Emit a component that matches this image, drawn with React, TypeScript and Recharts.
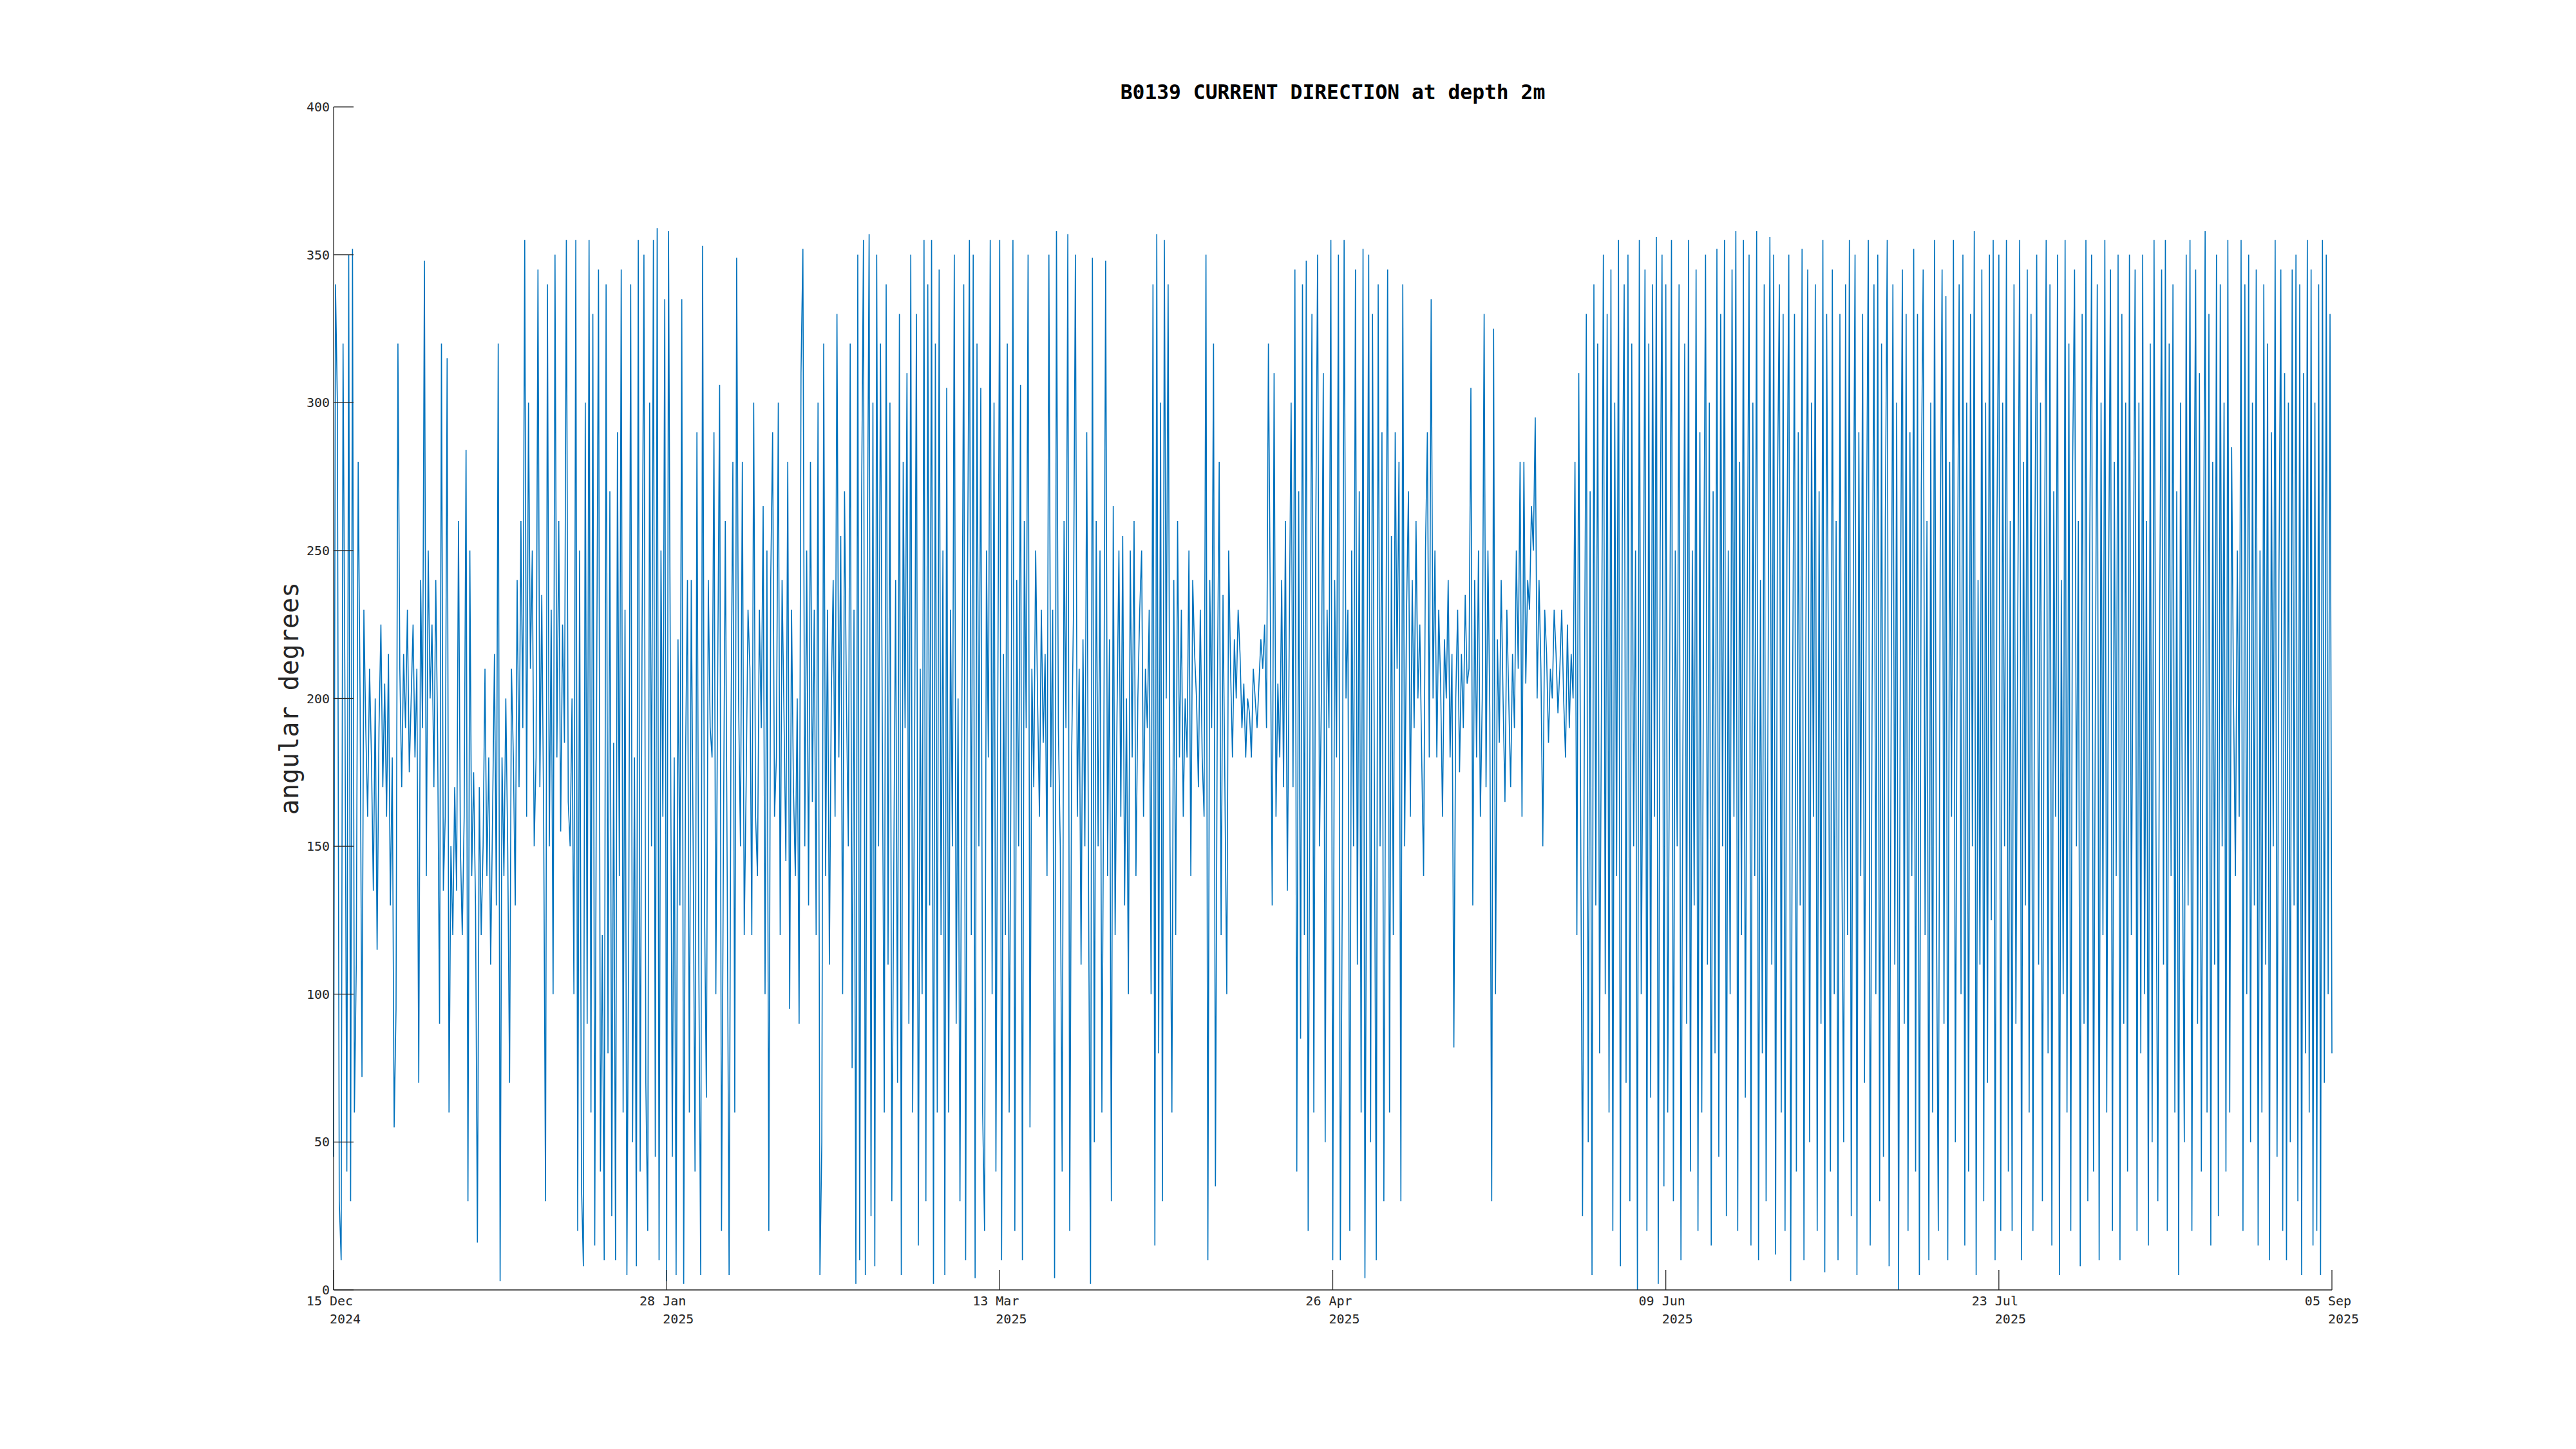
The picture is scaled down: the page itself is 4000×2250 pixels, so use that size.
import { LineChart, Line, XAxis, YAxis } from 'recharts'

// sampled every 6 h, starting 15 Dec 2024 00:00
const samplesPerDay = 4

// 15 Dec - 28 Jan
const decJan = [
  45, 340, 300, 30, 10, 320, 200, 40, 350, 30, 352, 60, 110, 280, 200, 72,
  230, 190, 160, 210, 180, 135, 200, 115, 190, 225, 170, 205, 160, 215, 130, 180,
  55, 95, 320, 210, 170, 215, 190, 230, 175, 200, 225, 180, 210, 70, 240, 190,
  348, 140, 250, 200, 225, 170, 240, 185, 90, 320, 135, 160, 315, 60, 150, 120,
  170, 135, 260, 150, 120, 160, 284, 30, 250, 140, 175, 130, 16, 170, 120, 150,
  210, 140, 180, 110, 160, 215, 130, 320, 3, 180, 140, 200, 150, 70, 210, 180,
  130, 240, 170, 260, 190, 355, 160, 300, 210, 250, 150, 180, 345, 170, 235, 160,
  30, 340, 150, 230, 100, 350, 180, 260, 155, 225, 185, 355, 165, 150, 200, 100,
  355, 20, 250, 35, 8, 300, 90, 355, 60, 330, 15, 200, 345, 40, 120, 10,
  340, 80, 270, 25, 185, 10, 290, 140, 345, 60, 230, 5, 130, 340, 50, 180,
  8, 355, 40, 220, 350, 70, 20, 300, 150, 355, 45, 359, 10, 250, 160, 335,
]

// 28 Jan - 13 Mar
const janMar = [
  3, 358, 200, 45, 180, 5, 220, 130, 335, 2, 180, 240, 60, 240, 150, 40,
  290, 110, 5, 353, 130, 65, 240, 190, 180, 290, 100, 210, 306, 20, 150, 260,
  140, 5, 190, 280, 60, 349, 200, 150, 280, 120, 170, 230, 210, 120, 300, 160,
  140, 230, 190, 265, 100, 250, 20, 240, 290, 160, 180, 300, 120, 240, 195, 145,
  280, 95, 230, 170, 140, 200, 90, 310, 352, 150, 250, 130, 280, 165, 230, 120,
  300, 5, 50, 320, 140, 230, 110, 200, 240, 160, 330, 180, 255, 100, 270, 200,
  150, 320, 75, 230, 2, 350, 10, 265, 355, 5, 240, 357, 25, 300, 8, 350,
  150, 320, 185, 60, 340, 110, 300, 30, 140, 240, 70, 330, 5, 280, 190, 310,
  90, 350, 60, 180, 330, 15, 210, 100, 355, 30, 340, 130, 355, 2, 320, 60,
  345, 120, 250, 5, 305, 60, 230, 150, 350, 90, 200, 30, 190, 340, 10, 240,
  355, 120, 350, 4, 320, 150, 305, 60, 20, 250, 180, 355, 100, 300, 40, 200,
]

// 13 Mar - 26 Apr
const marApr = [
  355, 10, 215, 120, 320, 60, 180, 355, 20, 240, 150, 306, 10, 260, 190, 350,
  55, 210, 170, 250, 200, 160, 230, 185, 215, 140, 350, 170, 230, 4, 358, 190,
  150, 40, 260, 190, 357, 20, 180, 230, 350, 160, 210, 110, 220, 150, 290, 130,
  2, 349, 50, 260, 150, 250, 60, 180, 348, 140, 220, 30, 265, 120, 195, 250,
  160, 255, 130, 200, 100, 250, 180, 260, 140, 200, 230, 250, 160, 210, 190, 230,
  100, 340, 15, 357, 80, 300, 30, 355, 200, 340, 150, 60, 240, 120, 260, 180,
  230, 160, 200, 180, 250, 140, 240, 215, 200, 170, 230, 180, 160, 350, 10, 240,
  190, 320, 35, 200, 280, 120, 235, 170, 100, 250, 210, 180, 220, 200, 230, 215,
  190, 205, 180, 200, 195, 180, 210, 200, 190, 205, 220, 210, 225, 190, 320, 230,
  130, 310, 160, 205, 180, 240, 170, 260, 135, 220, 300, 170, 345, 40, 270, 85,
  340, 120, 348, 20, 200, 330, 60, 255, 350, 150, 200, 310, 50, 230, 190, 355,
]

// 26 Apr - 09 Jun
const aprJun = [
  10, 240, 180, 350, 10, 130, 355, 200, 230, 20, 250, 150, 345, 110, 270, 60,
  352, 4, 180, 350, 50, 330, 170, 10, 340, 150, 290, 30, 200, 345, 60, 255,
  120, 290, 210, 280, 30, 340, 150, 230, 270, 160, 240, 190, 260, 200, 225, 180,
  140, 250, 290, 180, 335, 200, 250, 180, 230, 205, 160, 220, 200, 240, 180, 215,
  82, 200, 230, 175, 215, 190, 235, 205, 210, 305, 130, 240, 180, 250, 160, 200,
  330, 170, 250, 195, 30, 325, 100, 220, 185, 240, 200, 165, 230, 200, 170, 215,
  190, 250, 210, 280, 160, 280, 205, 240, 230, 265, 250, 295, 200, 240, 210, 150,
  230, 215, 185, 210, 200, 230, 215, 195, 210, 230, 200, 180, 225, 190, 215, 200,
  280, 120, 310, 160, 25, 200, 330, 50, 270, 5, 340, 130, 320, 80, 200, 350,
  100, 330, 60, 345, 20, 300, 140, 355, 8, 260, 340, 70, 350, 30, 320, 150,
  250, 0, 355, 100, 200, 345, 20, 320, 65, 340, 160, 356, 2, 250, 350, 35,
]

// 09 Jun - 23 Jul
const junJul = [
  340, 60, 200, 355, 30, 250, 150, 340, 10, 180, 320, 90, 355, 40, 250, 130,
  345, 20, 290, 60, 230, 350, 110, 300, 15, 270, 80, 352, 45, 330, 150, 355,
  25, 250, 100, 345, 160, 358, 20, 280, 120, 355, 65, 230, 350, 15, 300, 140,
  358, 10, 240, 80, 340, 30, 200, 356, 110, 350, 12, 270, 340, 60, 330, 20,
  250, 350, 3, 200, 330, 40, 290, 130, 352, 10, 220, 345, 50, 300, 160, 340,
  20, 270, 90, 355, 6, 330, 200, 40, 345, 100, 260, 10, 330, 150, 50, 340,
  120, 355, 25, 230, 350, 5, 290, 140, 330, 70, 250, 355, 15, 200, 340, 100,
  350, 30, 320, 45, 260, 355, 8, 180, 340, 110, 300, 0, 230, 345, 90, 330,
  20, 290, 140, 352, 40, 330, 5, 270, 345, 120, 260, 10, 300, 60, 355, 130,
  20, 250, 345, 90, 336, 10, 280, 160, 355, 50, 220, 340, 100, 350, 15, 300,
  40, 330, 150, 358, 5, 240, 110, 345, 30, 300, 70, 350, 125, 355, 10, 260,
]

// 23 Jul - 05 Sep
const julSep = [
  350, 20, 300, 150, 355, 40, 260, 20, 340, 90, 230, 355, 10, 280, 130, 345,
  60, 330, 20, 250, 350, 110, 300, 30, 230, 355, 80, 340, 15, 270, 160, 350,
  5, 240, 100, 355, 60, 320, 20, 280, 345, 150, 260, 8, 330, 90, 355, 30,
  250, 350, 40, 200, 340, 10, 300, 120, 355, 60, 240, 345, 20, 280, 140, 350,
  10, 330, 90, 300, 40, 350, 120, 230, 345, 20, 300, 80, 350, 100, 260, 15,
  320, 50, 355, 160, 30, 230, 345, 110, 355, 20, 320, 140, 340, 60, 270, 5,
  300, 150, 50, 350, 130, 355, 20, 240, 345, 90, 310, 40, 220, 358, 60, 330,
  15, 280, 110, 350, 25, 340, 150, 300, 40, 355, 60, 285, 200, 140, 250, 160,
  355, 20, 340, 100, 350, 50, 300, 130, 345, 15, 250, 60, 340, 110, 320, 10,
  290, 150, 355, 45, 240, 345, 20, 310, 10, 300, 50, 345, 130, 350, 30, 340,
  5, 310, 80, 355, 60, 345, 15, 300, 20, 340, 5, 355, 70, 350, 100, 330,
  80,
]

const tickDays = [0, 44, 88, 132, 176, 220, 264]
const tickDates = ['15 Dec', '28 Jan', '13 Mar', '26 Apr', '09 Jun', '23 Jul', '05 Sep']
const tickYears = ['2024', '2025', '2025', '2025', '2025', '2025', '2025']
const yTicks = [0, 50, 100, 150, 200, 250, 300, 350, 400]

const directions = [...decJan, ...janMar, ...marApr, ...aprJun, ...junJul, ...julSep]
const data = directions.map((dir, i) => ({ day: i / samplesPerDay, dir }))

const W = 4000
const H = 2250
const LEFT = 518
const RIGHT = 3621
const TOP = 166
const BOTTOM = 2003
const AXIS_W = 60
const FONT = '"DejaVu Sans Mono", monospace'
const INK = '#262626'
const CHAR = 12.04

const XTick = ({ x, index }: any) => {
  const start = x - 3.5 * CHAR
  return (
    <g>
      <line x1={x} x2={x} y1={BOTTOM} y2={BOTTOM - 31} stroke={INK} strokeWidth={1.3} />
      <text x={start} y={2027} fontFamily={FONT} fontSize={20} fill={INK}>{tickDates[index]}</text>
      <text x={start + 3 * CHAR} y={2055} fontFamily={FONT} fontSize={20} fill={INK}>{tickYears[index]}</text>
    </g>
  )
}

const YTick = ({ y, payload }: any) => (
  <g>
    <line x1={LEFT} x2={LEFT + 31} y1={y} y2={y} stroke={INK} strokeWidth={1.3} />
    <text x={LEFT - 6} y={y + 7} textAnchor="end" fontFamily={FONT} fontSize={20} fill={INK}>{payload.value}</text>
  </g>
)

export default function App() {
  return (
    <div style={{ position: 'absolute', left: 0, top: 0, width: W, height: H, background: '#fff' }}>
      <LineChart
        width={W}
        height={H}
        data={data}
        margin={{ top: TOP, right: W - RIGHT, bottom: H - BOTTOM - AXIS_W, left: LEFT - AXIS_W }}
      >
        <XAxis
          dataKey="day"
          type="number"
          domain={[0, 264]}
          ticks={tickDays}
          interval={0}
          height={AXIS_W}
          tickLine={false}
          axisLine={{ stroke: INK, strokeWidth: 1.3 }}
          tick={<XTick />}
        />
        <YAxis
          type="number"
          domain={[0, 400]}
          ticks={yTicks}
          interval={0}
          width={AXIS_W}
          tickLine={false}
          axisLine={{ stroke: INK, strokeWidth: 1.3 }}
          tick={<YTick />}
        />
        <Line type="linear" dataKey="dir" stroke="#0072BD" strokeWidth={1.6} dot={false} isAnimationActive={false} />
      </LineChart>
      <svg width={W} height={H} style={{ position: 'absolute', left: 0, top: 0, pointerEvents: 'none' }}>
        <text x={(LEFT + RIGHT) / 2} y={154} textAnchor="middle" fontFamily={FONT} fontSize={31.3} fontWeight="bold" fill="#000">
          B0139 CURRENT DIRECTION at depth 2m
        </text>
        <text
          x={463}
          y={(TOP + BOTTOM) / 2}
          textAnchor="middle"
          transform={`rotate(-90 463 ${(TOP + BOTTOM) / 2})`}
          fontFamily={FONT}
          fontSize={40}
          fill={INK}
        >
          angular degrees
        </text>
      </svg>
    </div>
  )
}
